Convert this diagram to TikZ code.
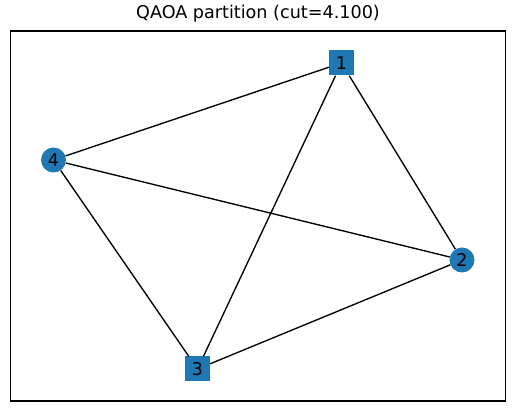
\documentclass[tikz,border=0pt]{standalone}
\usepackage{fontspec}
\setmainfont{DejaVu Sans}
\definecolor{tabblue}{HTML}{1F77B4}
\begin{document}
\begin{tikzpicture}[x=1pt,y=-1pt,
  sqnode/.style={rectangle,fill=tabblue,minimum size=25pt,inner sep=0pt,font=\fontsize{17.5}{19}\selectfont},
  cinode/.style={circle,fill=tabblue,minimum size=25pt,inner sep=0pt,font=\fontsize{17.5}{19}\selectfont},
  edge/.style={line width=1.35pt,black}]
\useasboundingbox (0,0) rectangle (515,411);
\draw[line width=1.1pt] (10.5,31) rectangle (505.5,401);
\node[font=\fontsize{17.6}{19}\selectfont] (title) at (258,14) {QAOA partition (cut=4.100)};
\node[sqnode] (n1) at (341.5,63) {1};
\node[cinode] (n2) at (462,260) {2};
\node[sqnode] (n3) at (197.5,369) {3};
\node[cinode] (n4) at (53.5,160) {4};
\draw[edge] (n1) -- (n4);
\draw[edge] (n1) -- (n2);
\draw[edge] (n1) -- (n3);
\draw[edge] (n4) -- (n2);
\draw[edge] (n4) -- (n3);
\draw[edge] (n3) -- (n2);
\end{tikzpicture}
\end{document}
